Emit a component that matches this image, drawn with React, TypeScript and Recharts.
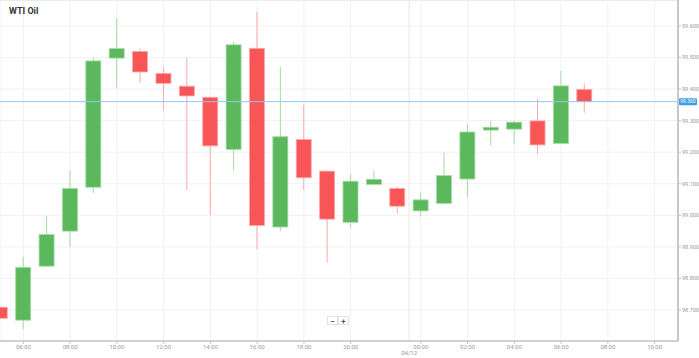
import {
  ComposedChart,
  Bar,
  XAxis,
  YAxis,
  CartesianGrid,
  ReferenceLine,
} from "recharts";

// hourly slots on the x axis (23:00 is the daily break, so it is skipped)
const slots = [
  "05:00", "06:00", "07:00", "08:00", "09:00", "10:00", "11:00", "12:00",
  "13:00", "14:00", "15:00", "16:00", "17:00", "18:00", "19:00", "20:00",
  "21:00", "22:00", "00:00", "01:00", "02:00", "03:00", "04:00", "05:00",
  "06:00", "07:00", "08:00", "09:00", "10:00", "11:00",
];

const opens = [
  98.709, 98.668, 98.839, 98.95, 99.089, 99.498, 99.519, 99.449, 99.409,
  99.374, 99.209, 99.529, 98.963, 99.24, 99.14, 98.978, 99.098, 99.085,
  99.014, 99.038, 99.115, 99.27, 99.273, 99.299, 99.228, 99.399,
];
const highs = [
  98.712, 98.869, 98.999, 99.141, 99.498, 99.624, 99.529, 99.469, 99.498,
  99.376, 99.549, 99.645, 99.469, 99.35, 99.142, 99.129, 99.14, 99.091,
  99.073, 99.199, 99.289, 99.299, 99.299, 99.369, 99.458, 99.418,
];
const lows = [
  98.672, 98.64, 98.835, 98.9, 99.071, 99.405, 99.42, 99.331, 99.08,
  99.001, 99.142, 98.892, 98.95, 99.08, 98.85, 98.961, 99.096, 99.005,
  98.996, 99.036, 99.057, 99.221, 99.225, 99.194, 99.226, 99.325,
];
const closes = [
  98.674, 98.835, 98.939, 99.085, 99.489, 99.528, 99.454, 99.418, 99.378,
  99.22, 99.54, 98.968, 99.249, 99.119, 98.988, 99.108, 99.114, 99.029,
  99.049, 99.126, 99.264, 99.279, 99.295, 99.223, 99.41, 99.36,
];

const xTicks = [1, 3, 5, 7, 9, 11, 13, 15, 18, 20, 22, 24, 26, 28];
const yTicks = [98.7, 98.8, 98.9, 99.0, 99.1, 99.2, 99.3, 99.4, 99.5, 99.6];
const lastPrice = 99.36;
const dayBreak = 17.5;
const dayLabel = "04/12";

const data = opens.map((o, i) => ({
  idx: i,
  open: o,
  high: highs[i],
  low: lows[i],
  close: closes[i],
}));

const UP = { body: "#5cb85c", edge: "#a3dba3" };
const DOWN = { body: "#f85656", edge: "#fba9a9" };

function Candle(props: any) {
  const { x, y, width, height, payload } = props;
  if (x == null || y == null) return null;
  const { open, close, high, low } = payload;
  const span = high - low || 1;
  const py = (v: number) => y + ((high - v) / span) * height;
  const up = close >= open;
  const c = up ? UP : DOWN;
  const top = py(Math.max(open, close));
  const bottom = py(Math.min(open, close));
  const cx = x + width / 2;
  return (
    <g>
      <line x1={cx} x2={cx} y1={y} y2={y + height} stroke={c.edge} strokeWidth={1} />
      <rect
        x={x}
        y={top}
        width={width}
        height={Math.max(bottom - top, 1.5)}
        fill={c.body}
        stroke={c.edge}
        strokeWidth={0.8}
      />
    </g>
  );
}

function PriceTag(props: any) {
  const { viewBox } = props;
  if (!viewBox) return null;
  const bx = viewBox.x + viewBox.width + 1;
  return (
    <g>
      <rect x={bx} y={viewBox.y - 3.5} width={18} height={7} rx={1} fill="#3d9fe3" />
      <text
        x={bx + 9}
        y={viewBox.y + 0.3}
        fill="#fff"
        fontSize={5}
        textAnchor="middle"
        dominantBaseline="middle"
      >
        {lastPrice.toFixed(3)}
      </text>
    </g>
  );
}

const tickStyle = { fontSize: 6, fill: "#9a9a9a" };

export default function App() {
  return (
    <div style={{ position: "relative", width: 699, height: 358, fontFamily: "Roboto, sans-serif" }}>
      <style>{`body{margin:0;background:#fff}`}</style>
      <div style={{ position: "absolute", left: 0, top: 0, width: 678, height: 1, background: "#e4e4e4" }} />
      <div
        style={{
          position: "absolute",
          left: 9,
          top: 6,
          fontSize: 9,
          fontWeight: 700,
          color: "#333",
          zIndex: 2,
        }}
      >
        WTI Oil
      </div>
      <ComposedChart
        width={699}
        height={358}
        data={data}
        margin={{ top: 0, right: 0, bottom: 0, left: 0 }}
      >
        <CartesianGrid stroke="#f1f1f1" />
        <XAxis
          dataKey="idx"
          type="number"
          domain={[0, 29]}
          ticks={xTicks}
          interval={0}
          allowDataOverflow
          tickFormatter={(v: number) => slots[v]}
          height={17}
          tick={tickStyle}
          tickSize={3}
          tickMargin={1}
          axisLine={{ stroke: "#c4c4c4", strokeWidth: 1.5 }}
          tickLine={{ stroke: "#c4c4c4" }}
        />
        <YAxis
          orientation="right"
          type="number"
          domain={[98.602, 99.682]}
          ticks={yTicks}
          interval={0}
          allowDataOverflow
          tickFormatter={(v: number) => v.toFixed(3)}
          width={21}
          tick={{ ...tickStyle, fontSize: 5.5 }}
          tickSize={3}
          tickMargin={1}
          axisLine={{ stroke: "#b8b8b8", strokeWidth: 1.5 }}
          tickLine={{ stroke: "#c4c4c4" }}
        />
        <ReferenceLine
          x={dayBreak}
          stroke="#e6e6e6"
          label={{ value: dayLabel, position: "bottom", offset: 10, fontSize: 6, fill: "#9a9a9a" }}
        />
        <ReferenceLine y={lastPrice} stroke="#92c8ee" label={<PriceTag />} />
        <Bar
          dataKey={(d: any) => [d.low, d.high]}
          barSize={15}
          shape={<Candle />}
          isAnimationActive={false}
        />
      </ComposedChart>
      <div style={{ position: "absolute", left: 327, top: 316, display: "flex", zIndex: 2 }}>
        {["\u2212", "+"].map((s) => (
          <div
            key={s}
            style={{
              width: 11,
              height: 9,
              border: "1px solid #e2e2e2",
              background: "#fff",
              fontSize: 8,
              lineHeight: "9px",
              textAlign: "center",
              color: "#555",
              fontWeight: 700,
              boxSizing: "border-box",
            }}
          >
            {s}
          </div>
        ))}
      </div>
    </div>
  );
}
